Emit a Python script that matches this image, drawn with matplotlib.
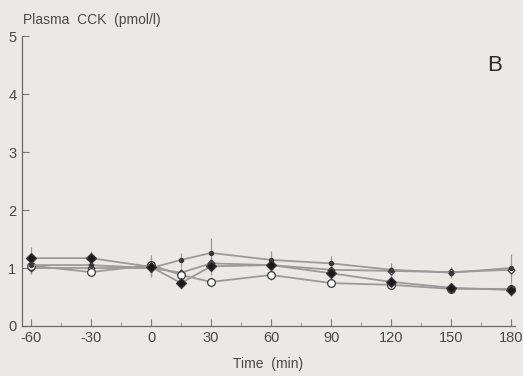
import matplotlib.pyplot as plt
import numpy as np

plt.rcParams['font.family'] = ['Liberation Sans', 'DejaVu Sans']
plt.rcParams['axes.unicode_minus'] = False

# Dane
time = [-60, -30, 0, 15, 30, 60, 90, 120, 150, 180]
filled_diamond = [1.17, 1.17, 1.02, 0.74, 1.03, 1.05, 0.91, 0.76, 0.66, 0.62]
filled_diamond_err = [0.2, 0.12, 0.15, 0.1, 0.15, 0.1, 0.12, 0.1, 0.08, 0.1]
open_circle = [1.04, 0.93, 1.05, 0.88, 0.76, 0.88, 0.74, 0.71, 0.64, 0.64]
open_circle_err = [0.1, 0.08, 0.18, 0.1, 0.08, 0.08, 0.06, 0.08, 0.06, 0.08]
small_dot = [1.05, 1.05, 1.0, 1.14, 1.26, 1.14, 1.08, 0.97, 0.92, 1.0]
small_dot_err = [0.15, 0.1, 0.15, 0.12, 0.25, 0.15, 0.12, 0.12, 0.1, 0.25]
open_diamond = [1.0, 1.0, 1.0, 0.92, 1.08, 1.05, 0.97, 0.95, 0.93, 0.97]
open_diamond_err = [0.1, 0.08, 0.1, 0.08, 0.1, 0.08, 0.08, 0.08, 0.08, 0.1]

bg = '#ebe9e5'
line_c = '#9a9a9a'
edge_c = '#3a3a3a'
txt_c = '#4a4a4a'

fig = plt.figure(figsize=(5.23, 3.76), dpi=100, facecolor=bg)
ax = fig.add_axes([0.042, 0.133, 0.943, 0.771], facecolor=bg)

series = [
    (open_diamond, open_diamond_err, 'D', 'white', 3.5),
    (open_circle, open_circle_err, 'o', 'white', 5.5),
    (small_dot, small_dot_err, 'o', edge_c, 3),
    (filled_diamond, filled_diamond_err, 'D', '#1a1a1a', 5),
]
for y, err, m, fc, ms in series:
    ax.errorbar(time, y, yerr=err, color=line_c, lw=1.3, elinewidth=0.9,
                capsize=0, marker=m, mfc=fc, mec=edge_c, mew=0.9, ms=ms)

ax.set_xlim(-64.5, 182)
ax.set_ylim(0, 5)
ax.set_xticks(np.arange(-60, 181, 30))
ax.set_xticks(np.arange(-60, 181, 15), minor=True)
ax.set_yticks(range(6))
for s in ['top', 'right']:
    ax.spines[s].set_visible(False)
for s in ['left', 'bottom']:
    ax.spines[s].set_color('#6a6a6a')
    ax.spines[s].set_linewidth(0.9)
ax.tick_params(direction='in', length=5, width=0.8, color='#7a7a7a',
               labelcolor=txt_c, labelsize=10.5)
ax.tick_params(which='minor', direction='in', length=3, width=0.7, color='#9a9a9a')
ax.tick_params(axis='y', pad=4)

fig.text(0.044, 0.948, 'Plasma  CCK  (pmol/l)', fontsize=10, color=txt_c, va='center')
ax.set_xlabel('Time  (min)', fontsize=10, color=txt_c, labelpad=9)
fig.text(0.945, 0.825, 'B', fontsize=16, color='#2a2a2a', ha='center', va='center')

fig.savefig('out.png', dpi=100, facecolor=bg)
